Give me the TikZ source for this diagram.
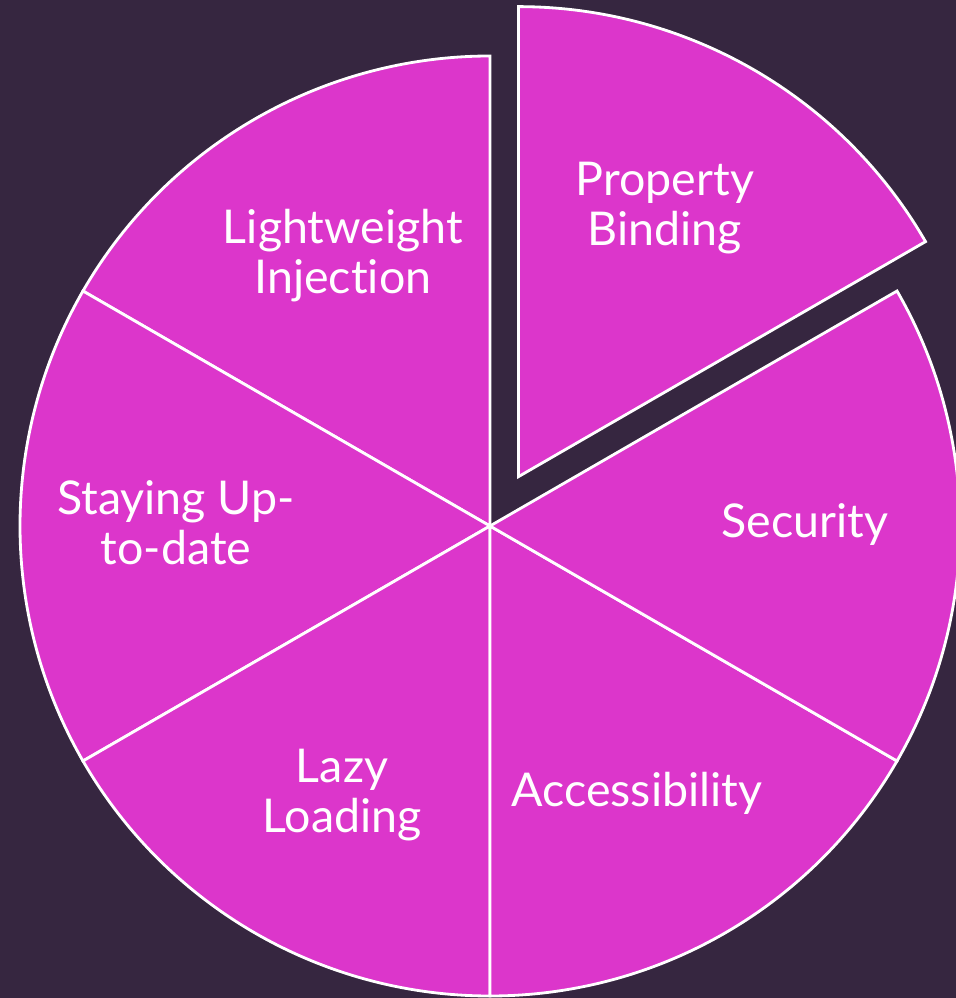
\documentclass[tikz,border=0pt]{standalone}
\usepackage{fontspec}
\setmainfont{Lato}[Ligatures=NoCommon]
\usetikzlibrary{calc}
\definecolor{piebg}{HTML}{362640}
\definecolor{piefill}{HTML}{DC36CB}

\begin{document}
\begin{tikzpicture}[x=0.02cm,y=0.02cm,
  slice/.style={fill=piefill,draw=white,line width=1.6pt,line join=miter},
  lbl/.style={text=white,font=\fontsize{26.5}{28.5}\selectfont,align=center}]
\useasboundingbox (0,0) rectangle (956,998);
\fill[piebg] (0,0) rectangle (956,998);
\coordinate (c) at (490,472);
% five slices round the centre
\foreach \a in {90,150,210,270,330}
  \draw[slice] (c) -- ++(\a:470) arc (\a:\a+60:470) -- cycle;
% pulled-out slice
\coordinate (co) at ($(c)+(60:57)$);
\draw[slice] (co) -- ++(30:470) arc (30:90:470) -- cycle;
\node[lbl] (binding) at (665,790) {Property\\Binding};
\node[lbl] (inject) at (343,742) {Lightweight\\Injection};
\node[lbl] (security) at (805,473) {Security};
\node[lbl] (uptodate) at (176,475) {Staying Up-\\to-date};
\node[lbl] (access) at (637,205) {Accessibility};
\node[lbl] (lazy) at (342,203) {Lazy\\Loading};
\end{tikzpicture}
\end{document}
